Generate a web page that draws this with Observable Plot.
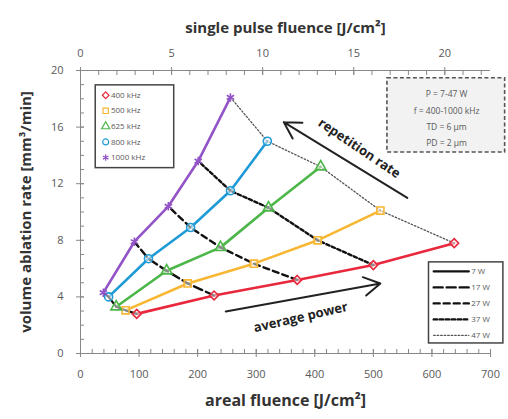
<!DOCTYPE html>
<html><head><meta charset="utf-8">
<script src="https://cdn.jsdelivr.net/npm/d3@7"></script>
<script src="https://cdn.jsdelivr.net/npm/@observablehq/plot@0.6"></script>
<style>body{margin:0;background:#fff;font-family:"Open Sans",sans-serif}</style>
</head><body><div id="chart"></div>
<script>
// ---- data ----
const frequencies = ["400 kHz", "500 kHz", "625 kHz", "800 kHz", "1000 kHz"];
const powers = ["7 W", "17 W", "27 W", "37 W", "47 W"];
const areal400 = [96, 228, 370, 500, 638];
const rate400 = [2.8, 4.1, 5.2, 6.25, 7.8];
const areal500 = [77, 183, 296, 405, 512];
const rate500 = [3.05, 4.95, 6.35, 8.0, 10.1];
const areal625 = [61, 147, 239, 321, 410];
const rate625 = [3.3, 5.85, 7.5, 10.3, 13.2];
const areal800 = [48, 116, 188, 256, 319];
const rate800 = [4.0, 6.7, 8.9, 11.5, 15.0];
const areal1000 = [39, 92, 150, 201, 256];
const rate1000 = [4.3, 7.9, 10.4, 13.6, 18.1];
const xTicks = [0, 100, 200, 300, 400, 500, 600, 700];
const yTicks = [0, 4, 8, 12, 16, 20];
const topTicks = [0, 5, 10, 15, 20];
const arealPerSingle = 31.1; // areal fluence / single pulse fluence
const paramLines = ["P = 7-47 W", "f = 400-1000 kHz", "TD = 6 µm", "PD = 2 µm"];

// ---- build table ----
const arealBy = [areal400, areal500, areal625, areal800, areal1000];
const rateBy = [rate400, rate500, rate625, rate800, rate1000];
const rows = [];
frequencies.forEach((f, i) => powers.forEach((p, j) =>
  rows.push({freq: f, power: p, fi: i, pj: j, x: arealBy[i][j], y: rateBy[i][j]})));

const colors = ["#e8283c", "#f7b733", "#4cb748", "#1e9bd7", "#9254c6"];
const symbols = ["diamond2", "square", "triangle", "circle", "asterisk"];
const dashes = [null, "9,4", "6,4", "3.5,2.5", "1.5,2"];
const pWidths = [2.2, 2.4, 2.4, 2.4, 1.3];
const pColors = ["#111", "#111", "#111", "#111", "#555"];
const grey = "#595959";

const marks = [];
// axis frame lines
marks.push(Plot.ruleY([0, 20], {stroke: "#888"}));
marks.push(Plot.ruleX([0], {stroke: "#888"}));
// bottom axis
marks.push(Plot.axisX({anchor: "bottom", ticks: d3.range(0, 701, 20), tickSize: 4, dy: -4, text: null, stroke: "#888", label: null}));
marks.push(Plot.axisX({anchor: "bottom", ticks: xTicks, tickSize: 8, dy: -4, text: null, stroke: "#888", label: null}));
marks.push(Plot.axisX({anchor: "bottom", ticks: xTicks, tickSize: 0, tickPadding: 17, fontSize: 11, fill: grey, label: null}));
// top axis
const topMinor = d3.range(0, 23, 1).map(t => t * arealPerSingle).filter(v => v <= 700);
marks.push(Plot.axisX({anchor: "top", ticks: topMinor, tickSize: 4, dy: 4, text: null, stroke: "#888", label: null}));
marks.push(Plot.axisX({anchor: "top", ticks: topTicks.map(t => t * arealPerSingle), tickSize: 8, dy: 4, text: null, stroke: "#888", label: null}));
marks.push(Plot.axisX({anchor: "top", ticks: topTicks.map(t => t * arealPerSingle), tickFormat: d => String(Math.round(d / arealPerSingle)), tickSize: 0, tickPadding: 14, fontSize: 11, fill: grey, label: null}));
// left axis
marks.push(Plot.axisY({anchor: "left", ticks: d3.range(0, 21, 1), tickSize: 4, dx: 4, text: null, stroke: "#888", label: null}));
marks.push(Plot.axisY({anchor: "left", ticks: yTicks, tickSize: 8, dx: 4, text: null, stroke: "#888", label: null}));
marks.push(Plot.axisY({anchor: "left", ticks: yTicks, tickSize: 0, tickPadding: 17, fontSize: 11, fill: grey, label: null}));
// axis titles
marks.push(Plot.text(["areal fluence [J/cm²]"], {frameAnchor: "bottom", textAnchor: "middle", dy: 52, fontSize: 16, fontWeight: "bold", fill: "#333"}));
marks.push(Plot.text(["single pulse fluence [J/cm²]"], {frameAnchor: "top", textAnchor: "middle", dy: -48, fontSize: 15, fontWeight: "bold", fill: "#333"}));
marks.push(Plot.text(["volume ablation rate [mm³/min]"], {frameAnchor: "left", textAnchor: "middle", dx: -54, rotate: -90, fontSize: 15, fontWeight: "bold", fill: "#333"}));

// frequency lines
frequencies.forEach((f, i) => {
  marks.push(Plot.line(rows.filter(r => r.fi === i), {x: "x", y: "y", stroke: colors[i], strokeWidth: 2.6}));
});
// power lines
powers.forEach((p, j) => {
  marks.push(Plot.line(rows.filter(r => r.pj === j), {x: "x", y: "y", stroke: pColors[j], strokeWidth: pWidths[j], strokeDasharray: dashes[j]}));
});
// markers
frequencies.forEach((f, i) => {
  marks.push(Plot.dot(rows.filter(r => r.fi === i), {x: "x", y: "y", symbol: () => symbols[i], r: 4, stroke: colors[i], strokeWidth: 1.6, fill: "white", fillOpacity: 0.5}));
});

// annotations
marks.push(Plot.arrow([{x1: 558, y1: 11.0, x2: 347, y2: 16.35}], {x1: "x1", y1: "y1", x2: "x2", y2: "y2", stroke: "#222", strokeWidth: 2, headLength: 14}));
marks.push(Plot.text(["repetition rate"], {x: 476, y: 14.5, rotate: 34, fontSize: 13, fontWeight: "bold", fill: "#222"}));
marks.push(Plot.arrow([{x1: 248, y1: 2.97, x2: 512, y2: 4.95}], {x1: "x1", y1: "y1", x2: "x2", y2: "y2", stroke: "#222", strokeWidth: 2, headLength: 14}));
marks.push(Plot.text(["average power"], {x: 376, y: 2.55, rotate: -13, fontSize: 13, fontWeight: "bold", fill: "#222"}));

// parameter box
marks.push(Plot.rect([{}], {x1: 524, x2: 725, y1: 14.2, y2: 19.45, fill: "#f2f2f2", stroke: "#555", strokeWidth: 1.6, strokeDasharray: "4,2.5"}));
marks.push(Plot.text(paramLines, {x: 625, y: (d, k) => 18.3 - k * 1.15, fontSize: 8.5, fill: grey}));

// frequency legend
marks.push(Plot.rect([{}], {x1: 26, x2: 160, y1: 13.1, y2: 18.95, fill: "white", stroke: "#444", strokeWidth: 1.5}));
frequencies.forEach((f, i) => {
  const ly = 18.25 - i * 1.1;
  marks.push(Plot.dot([f], {x: 43, y: ly, symbol: () => symbols[i], r: 3, stroke: colors[i], strokeWidth: 1.2}));
  marks.push(Plot.text([f], {x: 52, y: ly, textAnchor: "start", fontSize: 8, fill: grey}));
});

// power legend
marks.push(Plot.rect([{}], {x1: 595, x2: 722, y1: 0.71, y2: 6.44, fill: "white", stroke: "#444", strokeWidth: 1.5}));
powers.forEach((p, j) => {
  const ly = 5.8 - j * 1.13;
  marks.push(Plot.line([[603, ly], [663, ly]], {stroke: pColors[j], strokeWidth: pWidths[j], strokeDasharray: dashes[j]}));
  marks.push(Plot.text([p], {x: 667, y: ly, textAnchor: "start", fontSize: 8, fill: grey}));
});

const chart = Plot.plot({
  width: 508, height: 419,
  marginLeft: 80, marginRight: 18, marginTop: 70, marginBottom: 66,
  style: {fontFamily: "Open Sans, sans-serif", background: "white"},
  x: {domain: [0, 700]},
  y: {domain: [0, 20]},
  marks
});
document.getElementById("chart").appendChild(chart);
</script>
</body></html>
